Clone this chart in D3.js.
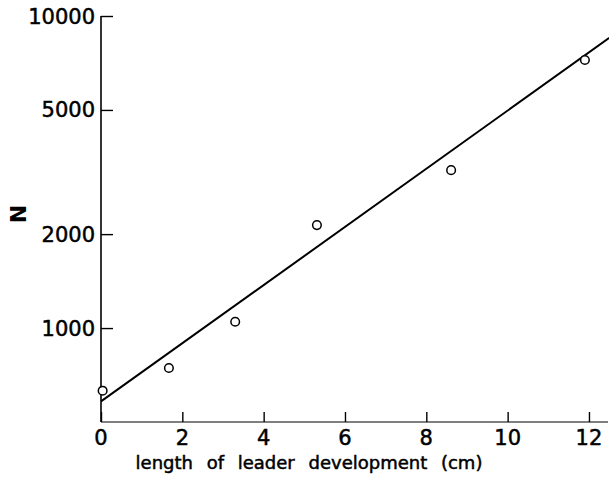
<!DOCTYPE html>
<html><head><meta charset="utf-8">
<script src="https://cdn.jsdelivr.net/npm/d3@7"></script>
<style>
html,body{margin:0;padding:0;background:#fff;}
svg{display:block;}
text{font-family:"DejaVu Sans",sans-serif;fill:#000;}
</style></head>
<body><svg id="c" width="609" height="481"></svg>
<script>
// Data
const lengthCm = [0.04, 1.67, 3.30, 5.31, 8.61, 11.9];
const nValues = [630, 745, 1048, 2138, 3206, 7230];
const fitX = [0, 12.5];
const fitN = [582, 8510];
const xTicks = [0, 2, 4, 6, 8, 10, 12];
const yTicks = [1000, 2000, 5000, 10000];
const xTitle = "length of leader development (cm)";
const yTitle = "N";

const svg = d3.select("#c");
const x = d3.scaleLinear().domain([0, 12.5]).range([101, 609.3]);
const y = d3.scaleLog().domain([500, 10000]).range([422, 16]);

// axes
const yAxis = d3.axisRight(y).tickValues(yTicks).tickSize(12).tickFormat("");
const gy = svg.append("g").attr("transform", "translate(101,0)").call(yAxis);
gy.select(".domain").attr("d", `M0,${y(10000)}V${y(500)}`).attr("stroke", "#000").attr("stroke-width", 1.6);
gy.selectAll(".tick line").attr("stroke", "#000").attr("stroke-width", 1.4);

const xAxis = d3.axisTop(x).tickValues(xTicks).tickSize(10).tickFormat("");
const gx = svg.append("g").attr("transform", "translate(0,422)").call(xAxis);
gx.select(".domain").attr("d", `M${x(0)},0H608`).attr("stroke", "#555").attr("stroke-width", 1.3);
gx.selectAll(".tick line").attr("stroke", "#000").attr("stroke-width", 1.4);

// tick labels
svg.append("g").selectAll("text").data(yTicks).join("text")
  .attr("x", 95).attr("y", d => y(d)).attr("dy", "0.36em")
  .attr("text-anchor", "end").attr("font-size", 21)
  .attr("stroke", "#000").attr("stroke-width", 0.5).text(d => d);
svg.append("g").selectAll("text").data(xTicks).join("text")
  .attr("x", d => x(d)).attr("y", 437).attr("dy", "0.36em")
  .attr("text-anchor", "middle").attr("font-size", 21)
  .attr("stroke", "#000").attr("stroke-width", 0.5).text(d => d);

// titles
svg.append("text").attr("x", 309).attr("y", 463).attr("dy", "0.36em")
  .attr("text-anchor", "middle").attr("font-size", 18).attr("word-spacing", 8)
  .attr("stroke", "#000").attr("stroke-width", 0.5)
  .text(xTitle);
svg.append("text").attr("transform", "translate(18,214) rotate(-90)")
  .attr("dy", "0.36em").attr("text-anchor", "middle")
  .attr("font-size", 22).attr("font-weight", "bold").text(yTitle);

// fit line
svg.append("path")
  .datum(fitX.map((d, i) => [d, fitN[i]]))
  .attr("d", d3.line().x(d => x(d[0])).y(d => y(d[1])))
  .attr("fill", "none").attr("stroke", "#000").attr("stroke-width", 2);

// points
svg.append("g").selectAll("circle").data(lengthCm).join("circle")
  .attr("cx", d => x(d)).attr("cy", (d, i) => y(nValues[i]))
  .attr("r", 4.3).attr("fill", "#fff").attr("stroke", "#000").attr("stroke-width", 1.5);
</script></body></html>
